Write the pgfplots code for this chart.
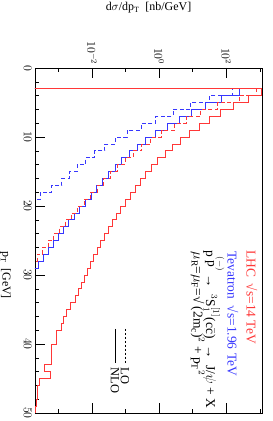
\documentclass[border=0pt]{standalone}
\usepackage{fontspec}
\setmainfont{Liberation Serif}
\usepackage{graphicx}
\usepackage{pgfplots}
\pgfplotsset{compat=1.18}
\definecolor{cred}{RGB}{255,55,55}
\definecolor{cblue}{RGB}{55,55,255}
\begin{document}
\rotatebox{-90}{%
\begin{tikzpicture}
\begin{axis}[
  scale only axis, width=345bp, height=227bp,
  xmin=0, xmax=50, ymode=log, ymin=2e-4, ymax=1.15e3,
  xtick={0,10,20,30,40,50}, minor xtick={2,4,6,8,12,14,16,18,22,24,26,28,32,34,36,38,42,44,46,48},
  ytick={1e-2,1,1e2}, minor ytick={1e-3,1e-1,1e1,1e3},
  xtick pos=left, ytick pos=both,
  major tick length=10bp, minor tick length=4bp,
  tick style={black, line width=0.6pt},
  axis line style={line width=0.8pt},
  font=\fontsize{12}{14}\selectfont,
  tick label style={font=\fontsize{12}{14}\selectfont},
  xlabel={p$_\mathrm{T}$\ \ [GeV]},
  ylabel={d$\sigma$/dp$_\mathrm{T}$\ \ [nb/GeV]},
  xlabel style={at={(axis description cs:0.6,-0.13)}, anchor=center},
  ylabel style={at={(axis description cs:-0.175,0.5)}, anchor=center},
]
% Tevatron LO (dashed blue)
\addplot[const plot mark left, line width=0.8pt, draw=cblue, dash pattern=on 4pt off 2.5pt] coordinates {
(3,1e-6) (3,148) (4,31.6) (5,8.51) (6,2.57) (7,0.794) (8,0.295) (9,0.112)
(10,0.0501) (11,0.0240) (12,0.0120) (13,0.00631) (14,0.00355) (15,0.00209)
(16,0.00126) (17,0.00063) (18,0.000282) (19,1e-6)};
% Tevatron NLO (solid blue)
\addplot[const plot mark left, line width=0.8pt, draw=cblue] coordinates {
(3,1e-6) (3,245) (4,69.2) (5,24.0) (6,8.91) (7,3.89) (8,1.70) (9,0.794)
(10,0.398) (11,0.219) (12,0.126) (13,0.0759) (14,0.0479) (15,0.0316)
(16,0.0209) (17,0.0138) (18,0.00933) (19,0.00631) (20,0.00427) (21,0.00295)
(22,0.00204) (23,0.00141) (24,0.00100) (25,0.000708) (26,0.000501)
(27,0.000363) (28,0.000251) (29,1e-6)};
% LHC LO (dashed red)
\addplot[const plot mark left, line width=0.8pt, draw=cred, dash pattern=on 4pt off 2.5pt] coordinates {
(3,1e-6) (3,759) (4,240) (5,55.0) (6,17.0) (7,6.46) (8,2.88) (9,1.17)
(10,0.562) (11,0.302) (12,0.166) (13,0.0955) (14,0.0575) (15,0.0355)
(16,0.0224) (17,0.0141) (18,0.00891) (19,0.00575) (20,0.00372) (21,0.00245)
(22,0.00162) (23,0.00107) (24,0.000724) (25,0.000490) (26,0.000331)
(27,0.000229) (28,1e-6)};
% LHC NLO (solid red)
\addplot[const plot mark left, line width=0.8pt, draw=cred] coordinates {
(3,1e-6) (3,1100) (4,457) (5,166) (6,66.1) (7,31.6) (8,15.5) (9,7.76)
(10,4.37) (11,2.45) (12,1.48) (13,0.912) (14,0.589) (15,0.389) (16,0.269)
(17,0.191) (18,0.135) (19,0.0977) (20,0.0708) (21,0.0525) (22,0.0398)
(23,0.0302) (24,0.0234) (25,0.0182) (26,0.0141) (27,0.0112) (28,0.00891)
(29,0.00708) (30,0.00575) (31,0.00468) (32,0.00380) (33,0.00309)
(34,0.00219) (35,0.00170) (36,0.00141) (37,0.00120) (38,0.000851)
(39,0.000851) (40,0.000603) (41,0.000603) (42,0.000603) (43,0.000389)
(44,0.000575) (45,0.000275) (46,0.000240) (47,0.000240) (48,0.000219)
(49,0.000209) (50,0.000209)};
\node[anchor=west, text=cred, font=\fontsize{13.5}{15}\selectfont] at (axis cs:25.9,575) {LHC\ \ √s=14 TeV};
\node[anchor=west, text=cblue, font=\fontsize{13.5}{15}\selectfont] at (axis cs:26.1,155) {Tevatron \ √s=1.96 TeV};
\node[anchor=west, font=\fontsize{13.5}{15}\selectfont] at (axis cs:25.9,43.6) {p$\stackrel{(-)}{\mathrm{p}}$\ → \ $^3$S$_1^{[1]}$(c$\bar{\mathrm{c}}$) \ → \ J/$\psi$ + X};
\node[anchor=west, font=\fontsize{13.5}{15}\selectfont] at (axis cs:26.1,14.1) {$\mu_\mathrm{R}$=$\mu_\mathrm{F}$=√ (2m$_\mathrm{c}$)$^2$ + p$_\mathrm{T}$$^2$};
\draw[black, dash pattern=on 2.5pt off 1.5pt, line width=0.6pt] (axis cs:37.8,0.0955) -- (axis cs:42.8,0.0955);
\node[anchor=west, font=\fontsize{12.5}{14}\selectfont] at (axis cs:42.9,0.0955) {LO};
\draw[black, line width=0.6pt] (axis cs:37.8,0.0479) -- (axis cs:42.8,0.0479);
\node[anchor=west, font=\fontsize{12.5}{14}\selectfont] at (axis cs:42.9,0.0479) {NLO};
\end{axis}
\pgfresetboundingbox
\path (current axis.south west) ++(-68bp,-35bp) rectangle ++(421bp,273bp);
\end{tikzpicture}}
\end{document}
